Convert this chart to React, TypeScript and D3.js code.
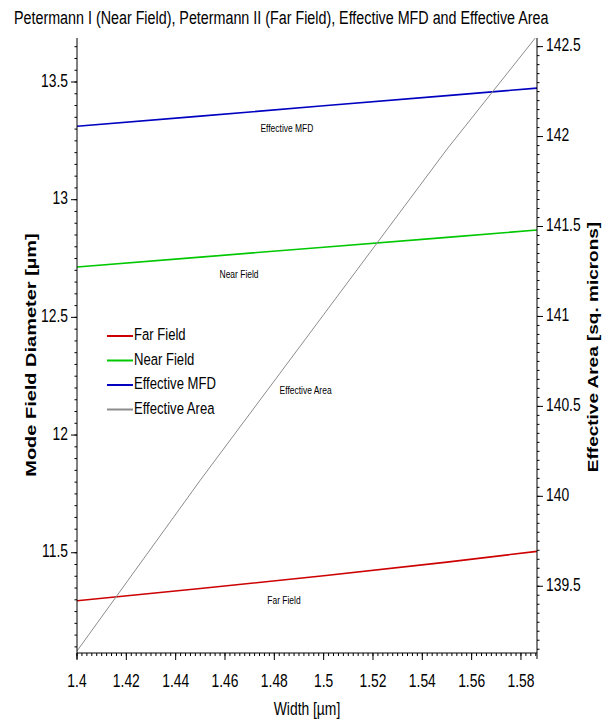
import React from 'react'
import * as d3 from 'd3'

// data
const widths = [1.4, 1.45, 1.5, 1.55, 1.5865]
const farField = [11.296, 11.348, 11.402, 11.46, 11.506]
const nearField = [12.714, 12.756, 12.798, 12.84, 12.871]
const effectiveMFD = [13.312, 13.355, 13.399, 13.442, 13.474]
const effectiveArea = [139.14, 140.09, 141.01, 141.93, 142.56]

const xTicks = [1.4, 1.42, 1.44, 1.46, 1.48, 1.5, 1.52, 1.54, 1.56, 1.58]
const leftTicks = [11.5, 12, 12.5, 13, 13.5]
const rightTicks = [139.5, 140, 140.5, 141, 141.5, 142, 142.5]

const legendNames = ['Far Field', 'Near Field', 'Effective MFD', 'Effective Area']
const colors = ['#cc0000', '#00c800', '#0000c0', '#8c8c8c']

const W = 610
const H = 721
const margin = {top: 38, right: 73, bottom: 68, left: 77}
const SX = 0.77 // the original is squeezed sideways
const FONT = 'Arial, "Liberation Sans", sans-serif'

const x = d3.scaleLinear().domain([1.4, 1.5865]).range([margin.left, W - margin.right])
const yL = d3.scaleLinear().domain([11.074, 13.687]).range([H - margin.bottom, margin.top])
const yR = d3.scaleLinear().domain([139.129, 142.548]).range([H - margin.bottom, margin.top])

const T = ({x, y, rot, size, anchor, weight, base, children}: any) => (
  <text
    transform={`translate(${x},${y}) scale(${SX},1)${rot ? ' rotate(-90)' : ''}`}
    fontSize={size}
    fontWeight={weight || 'normal'}
    textAnchor={anchor || 'start'}
    dominantBaseline={base || 'auto'}
    fontFamily={FONT}
    fill="#000"
  >{children}</text>
)

const range = (a: number, b: number, s: number) => {
  const out: number[] = []
  for (let i = 0; Math.round(a / s + i) * s <= b + 1e-9; i++) out.push(+(Math.round(a / s + i) * s).toFixed(4))
  return out
}

export default function App() {
  const left = margin.left
  const right = W - margin.right
  const top = margin.top
  const bottom = H - margin.bottom

  const mk = (vals: number[], sc: any) =>
    d3.line<number>().x((_, i) => x(widths[i])).y(d => sc(d))(vals) as string

  const series = [
    {vals: farField, sc: yL},
    {vals: nearField, sc: yL},
    {vals: effectiveMFD, sc: yL},
    {vals: effectiveArea, sc: yR},
  ]

  const lerp = (vals: number[], w: number) => {
    const i = Math.max(0, d3.bisectRight(widths, w) - 1)
    const j = Math.min(widths.length - 1, i + 1)
    const t = j === i ? 0 : (w - widths[i]) / (widths[j] - widths[i])
    return vals[i] + (vals[j] - vals[i]) * t
  }

  // in-plot labels, anchored at a width on their line
  const notes = [
    {text: 'Effective MFD', at: 1.4851, s: 2, dx: 0, dy: 20, anchor: 'middle'},
    {text: 'Near Field', at: 1.4657, s: 1, dx: 0, dy: 21, anchor: 'middle'},
    {text: 'Far Field', at: 1.4839, s: 0, dx: 0, dy: 21, anchor: 'middle'},
    {text: 'Effective Area', at: 1.4797, s: 3, dx: 6, dy: 9, anchor: 'start'},
  ]

  const minorL = range(11.1, 13.65, 0.05).filter(v => yL(v) >= top && yL(v) <= bottom)
  const minorR = range(139.15, 142.5, 0.05).filter(v => yR(v) >= top && yR(v) <= bottom)
  const minorX = range(1.4, 1.586, 0.002).filter(v => x(v) <= right + 0.1)

  return (
    <svg width={W} height={H} style={{position: 'absolute', left: 0, top: 0, background: '#fff'}}>
      <rect width={W} height={H} fill="#fff" />
      <defs>
        <clipPath id="plot">
          <rect x={left} y={top} width={right - left} height={bottom - top} />
        </clipPath>
      </defs>

      <T x={14} y={24} size={18.6}>Petermann I (Near Field), Petermann II (Far Field), Effective MFD and Effective Area</T>

      {/* series */}
      <g clipPath="url(#plot)" fill="none">
        {series.map((s, i) => (
          <path key={i} d={mk(s.vals, s.sc)} stroke={colors[i]} strokeWidth={i === 3 ? 1 : 1.6} />
        ))}
      </g>

      {notes.map((n, i) => {
        const s = series[n.s]
        return (
          <T key={i} x={x(n.at) + n.dx} y={s.sc(lerp(s.vals, n.at)) + n.dy} size={11} anchor={n.anchor} base="middle">{n.text}</T>
        )
      })}

      {/* left axis */}
      <g stroke="#000" strokeWidth={1}>
        <line x1={left} x2={left} y1={top} y2={bottom + 6} />
        {leftTicks.map(t => <line key={t} x1={left - 6} x2={left} y1={yL(t)} y2={yL(t)} />)}
        {minorL.map(t => <line key={t} x1={left - 2.5} x2={left} y1={yL(t)} y2={yL(t)} />)}
      </g>
      {leftTicks.map(t => (
        <T key={t} x={left - 9} y={yL(t)} size={18} anchor="end" base="middle">{d3.format('')(t)}</T>
      ))}

      {/* right axis */}
      <g stroke="#000" strokeWidth={1}>
        <line x1={right} x2={right} y1={top} y2={bottom + 6} />
        {rightTicks.map(t => <line key={t} x1={right} x2={right + 6} y1={yR(t)} y2={yR(t)} />)}
        {minorR.map(t => <line key={t} x1={right} x2={right + 2.5} y1={yR(t)} y2={yR(t)} />)}
      </g>
      {rightTicks.map(t => (
        <T key={t} x={right + 9} y={yR(t)} size={18} base="middle">{d3.format('')(t)}</T>
      ))}

      {/* bottom axis */}
      <g stroke="#000" strokeWidth={1}>
        <line x1={left} x2={right} y1={bottom} y2={bottom} />
        {xTicks.map(t => <line key={t} x1={x(t)} x2={x(t)} y1={bottom} y2={bottom + 7} />)}
        {minorX.map(t => <line key={t} x1={x(t)} x2={x(t)} y1={bottom} y2={bottom + 3} />)}
      </g>
      {xTicks.map(t => (
        <T key={t} x={x(t)} y={bottom + 34} size={18} anchor="middle">{d3.format('')(t)}</T>
      ))}

      <T x={(left + right) / 2} y={H - 6} size={18} anchor="middle">Width [µm]</T>
      <T x={36} y={355} size={20} weight="bold" rot anchor="middle">Mode Field Diameter [µm]</T>
      <T x={598} y={347} size={19} weight="bold" rot anchor="middle">Effective Area [sq. microns]</T>

      {/* legend */}
      {legendNames.map((name, i) => (
        <g key={name} transform={`translate(107,${336 + i * 24.5})`}>
          <line x1={0} x2={26} stroke={colors[i]} strokeWidth={2} />
          <T x={27} y={0} size={17} base="middle">{name}</T>
        </g>
      ))}
    </svg>
  )
}
